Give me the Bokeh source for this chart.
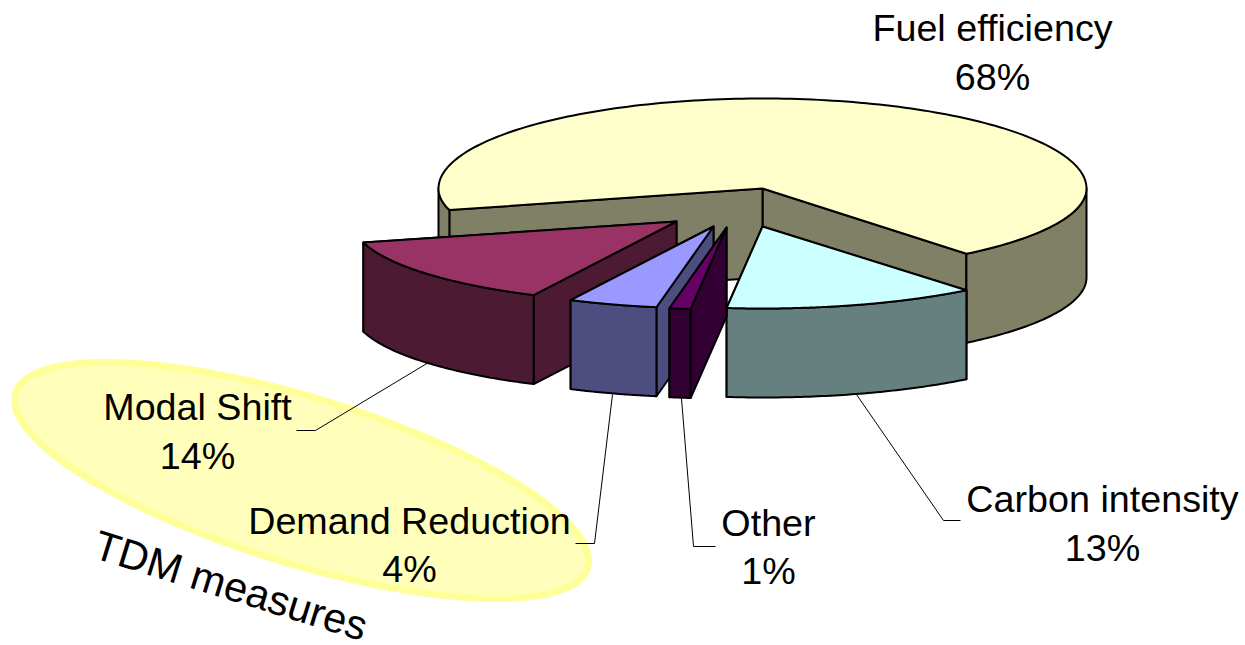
import numpy as np
from bokeh.plotting import figure
from bokeh.models import Range1d
from bokeh.core.properties import value
from bokeh.embed import file_html
from bokeh.resources import INLINE

# data
slices = ["Carbon intensity", "Other", "Demand Reduction", "Modal Shift", "Fuel efficiency"]
shares = [12.6, 1.05, 4.45, 13.6, 68.3]
percent_labels = ["13%", "1%", "4%", "14%", "68%"]
top_colors = ["#CCFFFF", "#660066", "#9999FF", "#993366", "#FFFFCC"]
wall_colors = ["#668080", "#330033", "#4D4D80", "#4D1A33", "#808066"]
explode_x = [0, -36, -49, -86, 0]
explode_y = [38, 39, 38, 33, 0]

# projection of the pie (pixel space of the picture)
CX, CY = 762, 188
RX = 324
RY_FRONT = {0: 82, 1: 82, 2: 82, 3: 82, 4: 84}
RY_BACK = 90
DEPTH = 89
START = 51.0
W, H = 1245, 645

p = figure(width=W, height=H, output_backend="svg", toolbar_location=None,
           x_range=Range1d(0, W), y_range=Range1d(H, 0), min_border=0)
p.axis.visible = False
p.grid.visible = False
p.outline_line_color = None
p.background_fill_color = "white"

# highlighted ellipse
ta = np.linspace(0, 2 * np.pi, 160)
th = np.radians(17)
ex = 301 + 299 * np.cos(ta) * np.cos(th) - 83 * np.sin(ta) * np.sin(th)
ey = 480 + 299 * np.cos(ta) * np.sin(th) + 83 * np.sin(ta) * np.cos(th)
p.patch(ex, ey, fill_color="#FFFFBB", line_color="#FFFF99", line_width=7)


def point(deg, ox, oy, ry_f):
    a = np.radians(deg)
    s, c = np.sin(a), np.cos(a)
    ry = ry_f if s >= 0 else RY_BACK
    return CX + ox + RX * c, CY + oy + ry * s


def draw(i, a0, a1):
    ox, oy, ryf = explode_x[i], explode_y[i], RY_FRONT[i]
    ax, ay = CX + ox, CY + oy
    kw = dict(line_color="black", line_width=2, line_join="round")
    for a in (a1, a0):
        x, y = point(a, ox, oy, ryf)
        p.patch([ax, x, x, ax], [ay, y, y + DEPTH, ay + DEPTH], fill_color=wall_colors[i], **kw)
    for lo, hi in ((0, 180), (360, 540)):
        b0, b1 = max(a0, lo), min(a1, hi)
        if b1 > b0:
            deg = np.linspace(b0, b1, 60)
            pts = [point(d, ox, oy, ryf) for d in deg]
            xs = [q[0] for q in pts]
            ys = [q[1] for q in pts]
            p.patch(xs + xs[::-1], ys + [v + DEPTH for v in ys[::-1]], fill_color=wall_colors[i], **kw)
    deg = np.linspace(a0, a1, 200)
    pts = [point(d, ox, oy, ryf) for d in deg]
    p.patch([ax] + [q[0] for q in pts], [ay] + [q[1] for q in pts], fill_color=top_colors[i], **kw)


angles = START + np.cumsum([0] + shares) * 3.6
for i in (4, 0, 3, 2, 1):
    draw(i, angles[i], angles[i + 1])

# leader lines
leaders = [([428, 315, 296], [362, 430, 430]),
           ([612, 594, 575], [394, 543, 543]),
           ([681, 693, 715], [398, 546, 546]),
           ([856, 943, 960], [394, 520, 520])]
for lx, ly in leaders:
    p.line(lx, ly, line_color="black", line_width=1)

# labels
label_pos = {"Carbon intensity": (1102, 498, 547),
             "Other": (768, 522, 570),
             "Demand Reduction": (409, 520, 568),
             "Modal Shift": (197, 406, 455),
             "Fuel efficiency": (992, 27, 76)}
for name, pct in zip(slices, percent_labels):
    x, y1, y2 = label_pos[name]
    for txt, y in ((name, y1), (pct, y2)):
        p.text([x], [y], text=[txt], text_font=value("Liberation Sans"), text_font_size="37.7px",
               text_align="center", text_baseline="alphabetic", text_color="black")

p.text([95], [543], text=["TDM measures"], text_font=value("Liberation Sans"), text_font_size="41.5px",
       text_align="left", text_baseline="alphabetic", text_color="black", angle=-0.3)

open("out.html", "w").write(file_html(p, INLINE))
